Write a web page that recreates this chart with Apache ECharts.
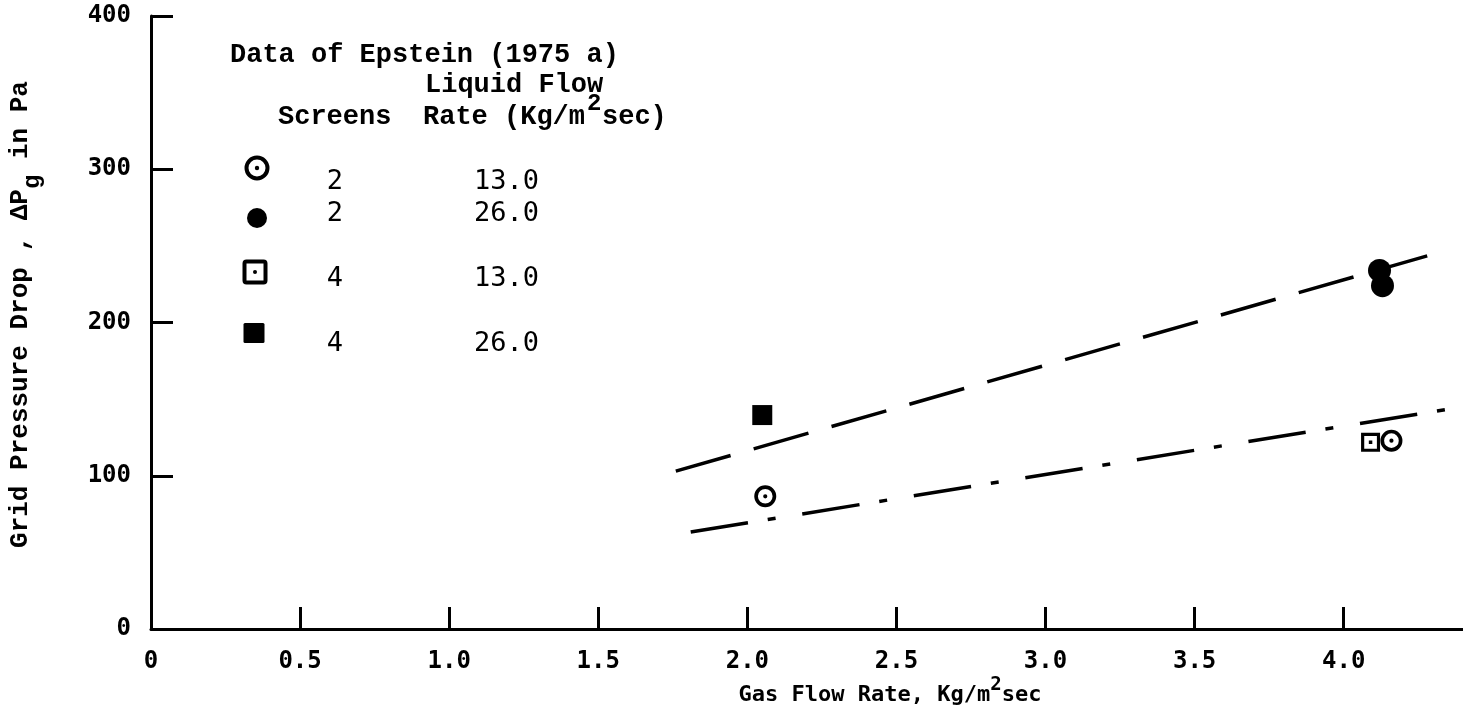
<!DOCTYPE html>
<html>
<head>
<meta charset="utf-8">
<script src="https://cdn.jsdelivr.net/npm/echarts@6/dist/echarts.min.js"></script>
<style>
  html, body { margin: 0; padding: 0; background: #fff; }
  #chart { width: 1463px; height: 717px; }
</style>
</head>
<body>
<div id="chart"></div>
<script>
// Axis ticks
const xTickValues = [0, 0.5, 1.0, 1.5, 2.0, 2.5, 3.0, 3.5, 4.0];
const xTickLabels = ['0', '0.5', '1.0', '1.5', '2.0', '2.5', '3.0', '3.5', '4.0'];
const yTickValues = [0, 100, 200, 300, 400];
const yTickLabels = ['0', '100', '200', '300', '400'];

// Measured points: [gas flow rate (Kg/m2 sec), grid pressure drop (Pa)]
const screens2Liquid13 = [[2.06, 86.6], [4.16, 122.9]];
const screens2Liquid26 = [[4.12, 234], [4.13, 224]];
const screens4Liquid13 = [[4.09, 121.8]];
const screens4Liquid26 = [[2.05, 139.6]];

// Trend lines through the data (end points)
const trendLiquid26 = [[1.76, 103], [4.28, 243.5]];
const trendLiquid13 = [[1.81, 63.3], [4.4, 145]];

// Legend table
const legendTitle = 'Data of Epstein (1975 a)';
const legendHeadScreens = 'Screens';
const legendHeadRate1 = 'Liquid Flow';
const legendScreens = ['2', '2', '4', '4'];
const legendRates = ['13.0', '26.0', '13.0', '26.0'];

const ink = '#000';
const sansMono = '"DejaVu Sans Mono", monospace';
const serifMono = '"Liberation Mono", "Courier New", monospace';

// Marker shapes (ring with centre dot, square with centre dot)
const ringDotPath = 'path://M0,-12A12,12,0,1,1,0,12A12,12,0,1,1,0,-12Z' +
  'M0,-8A8,8,0,1,0,0,8A8,8,0,1,0,0,-8Z' +
  'M0,-2.3A2.3,2.3,0,1,1,0,2.3A2.3,2.3,0,1,1,0,-2.3Z';
const boxDotPath = 'path://M-12,-12L12,-12L12,12L-12,12Z' +
  'M-8,-8L-8,8L8,8L8,-8Z' +
  'M-2.2,-2.2L2.2,-2.2L2.2,2.2L-2.2,2.2Z';

function tickText(values, labels) {
  return v => {
    const i = values.findIndex(t => Math.abs(t - v) < 1e-9);
    return i >= 0 ? labels[i] : '';
  };
}

// Legend layout
const rowY = [168, 218, 272, 333];
const rowTextY = [182, 214, 279, 344];
const rowMarkX = [257, 257, 255, 254];
const rowKinds = ['ringCircle', 'disc', 'ringBox', 'box'];

function marker(kind, cx, cy) {
  if (kind === 'ringCircle') {
    return [
      { type: 'circle', shape: { cx, cy, r: 10.5 }, style: { fill: '#fff', stroke: ink, lineWidth: 4 } },
      { type: 'circle', shape: { cx, cy, r: 2.2 }, style: { fill: ink } }
    ];
  }
  if (kind === 'disc') {
    return [{ type: 'circle', shape: { cx, cy, r: 10 }, style: { fill: ink } }];
  }
  if (kind === 'ringBox') {
    return [
      { type: 'rect', shape: { x: cx - 10.5, y: cy - 10.5, width: 21, height: 21, r: 2 }, style: { fill: '#fff', stroke: ink, lineWidth: 4 } },
      { type: 'circle', shape: { cx, cy, r: 2 }, style: { fill: ink } }
    ];
  }
  return [{ type: 'rect', shape: { x: cx - 10.5, y: cy - 10, width: 21, height: 20, r: 1.5 }, style: { fill: ink } }];
}

function headText(text, x, y) {
  return {
    type: 'text', x, y,
    style: { text, fill: ink, font: 'bold 27px ' + serifMono, textAlign: 'left', textVerticalAlign: 'middle' }
  };
}

const graphics = [];
graphics.push(headText(legendTitle, 230, 55));
graphics.push(headText(legendHeadRate1, 425, 85));
graphics.push(headText(legendHeadScreens, 278, 117));
graphics.push(headText('Rate (Kg/m', 423, 117));
graphics.push({ type: 'text', x: 587, y: 104, style: { text: '2', fill: ink, font: 'bold 24px ' + serifMono, textAlign: 'left', textVerticalAlign: 'middle' } });
graphics.push(headText('sec)', 602, 117));
for (let i = 0; i < legendScreens.length; i++) {
  marker(rowKinds[i], rowMarkX[i], rowY[i]).forEach(g => graphics.push(g));
  graphics.push({ type: 'text', x: 335, y: rowTextY[i], style: { text: legendScreens[i], fill: ink, font: '27px ' + sansMono, textAlign: 'center', textVerticalAlign: 'middle' } });
  graphics.push({ type: 'text', x: 474, y: rowTextY[i], style: { text: legendRates[i], fill: ink, font: '27px ' + sansMono, textAlign: 'left', textVerticalAlign: 'middle' } });
}

const chart = echarts.init(document.getElementById('chart'), null, { renderer: 'canvas' });

const solid = { color: ink, opacity: 1 };

const option = {
  backgroundColor: '#fff',
  animation: false,
  grid: { left: 151, top: 16, right: 0, bottom: 88, containLabel: false, outerBoundsMode: 'none' },
  xAxis: {
    type: 'value', min: 0, max: 4.4, interval: 0.5,
    axisLine: { show: true, onZero: false, lineStyle: { color: ink, width: 3 } },
    axisTick: { show: true, inside: true, length: 22, customValues: xTickValues, lineStyle: { color: ink, width: 3 } },
    axisLabel: {
      customValues: xTickValues, formatter: tickText(xTickValues, xTickLabels),
      margin: 21, color: ink, fontFamily: sansMono, fontSize: 24, fontWeight: 'bold'
    },
    splitLine: { show: false },
    name: '{b|Gas Flow Rate, Kg/m}{sup|2}{b|sec}',
    nameLocation: 'middle', nameGap: 47, nameMoveOverlap: false,
    nameTextStyle: {
      color: ink, padding: [0, 0, 0, 166],
      rich: {
        b: { fontFamily: sansMono, fontSize: 22, fontWeight: 'bold', color: ink, lineHeight: 30, verticalAlign: 'bottom' },
        sup: { fontFamily: sansMono, fontSize: 19, fontWeight: 'bold', color: ink, lineHeight: 30, verticalAlign: 'top' }
      }
    }
  },
  yAxis: {
    type: 'value', min: 0, max: 400, interval: 100,
    axisLine: { show: true, onZero: false, lineStyle: { color: ink, width: 3 } },
    axisTick: { show: true, inside: true, length: 22, customValues: yTickValues, lineStyle: { color: ink, width: 3 } },
    axisLabel: {
      customValues: yTickValues, formatter: tickText(yTickValues, yTickLabels),
      margin: 20, color: ink, fontFamily: sansMono, fontSize: 24, fontWeight: 'bold'
    },
    splitLine: { show: false },
    name: '{b|Grid Pressure Drop , ΔP}{sub|g}{b| in Pa}',
    nameLocation: 'middle', nameGap: 106, nameMoveOverlap: false,
    nameTextStyle: {
      color: ink, padding: [0, 0, 0, 16],
      rich: {
        b: { fontFamily: serifMono, fontWeight: 'bold', fontSize: 26, color: ink, lineHeight: 38, verticalAlign: 'top' },
        sub: { fontFamily: serifMono, fontWeight: 'bold', fontSize: 24, color: ink, lineHeight: 38, verticalAlign: 'bottom' }
      }
    }
  },
  series: [
    {
      name: 'trend 26.0', type: 'line', data: trendLiquid26, symbol: 'none', silent: true,
      lineStyle: { color: ink, width: 3.5, type: [57, 24], cap: 'butt' }
    },
    {
      name: 'trend 13.0', type: 'line', data: trendLiquid13, symbol: 'none', silent: true,
      lineStyle: { color: ink, width: 3.5, type: [58, 20, 8, 27], cap: 'butt' }
    },
    { name: '2 screens, 13.0', type: 'scatter', data: screens2Liquid13, symbol: ringDotPath, symbolSize: 22, itemStyle: solid },
    { name: '2 screens, 26.0', type: 'scatter', data: screens2Liquid26, symbol: 'circle', symbolSize: 23, itemStyle: solid },
    { name: '4 screens, 13.0', type: 'scatter', data: screens4Liquid13, symbol: boxDotPath, symbolSize: 19, itemStyle: solid },
    { name: '4 screens, 26.0', type: 'scatter', data: screens4Liquid26, symbol: 'rect', symbolSize: 20, itemStyle: solid }
  ],
  graphic: graphics
};

chart.setOption(option);
</script>
</body>
</html>
